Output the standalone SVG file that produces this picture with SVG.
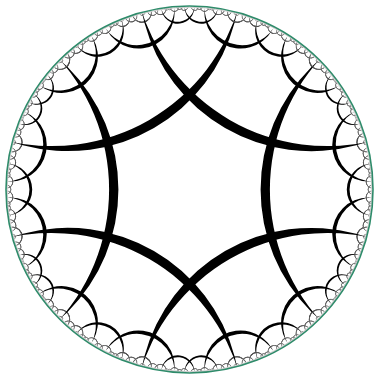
<svg xmlns="http://www.w3.org/2000/svg" width="377" height="377" viewBox="0 0 377 377">
<style>.b{fill:#000;fill-rule:evenodd;stroke:none}.t{fill:none;stroke:#777;stroke-width:0.7}</style>
<defs>
<clipPath id="disk"><circle cx="189.5" cy="189.5" r="183"/></clipPath>
<g id="sector">
<path class="b" d="M269.893 189.5a195.338 195.338 0 1 0 390.676 0a195.338 195.338 0 1 0 -390.676 0ZM260.592 189.5a172.738 172.738 0 1 0 345.476 0a172.738 172.738 0 1 0 -345.476 0Z"/>
<path class="b" d="M335.788 144.117a37.125 37.125 0 1 0 74.249 0a37.125 37.125 0 1 0 -74.249 0ZM332.239 145.218a36.224 36.224 0 1 0 72.448 0a36.224 36.224 0 1 0 -72.448 0Z"/>
<path class="b" d="M335.788 234.883a37.125 37.125 0 1 0 74.249 0a37.125 37.125 0 1 0 -74.249 0ZM332.239 233.782a36.224 36.224 0 1 0 72.448 0a36.224 36.224 0 1 0 -72.448 0Z"/>
<path class="b" d="M349.569 189.5a26.424 26.424 0 1 0 52.848 0a26.424 26.424 0 1 0 -52.848 0ZM346.787 189.5a25.964 25.964 0 1 0 51.929 0a25.964 25.964 0 1 0 -51.929 0Z"/>
<path class="b" d="M338.354 107.542a16.761 16.761 0 1 0 33.522 0a16.761 16.761 0 1 0 -33.522 0ZM336.702 108.451a16.575 16.575 0 1 0 33.15 0a16.575 16.575 0 1 0 -33.15 0Z"/>
<path class="b" d="M338.354 271.458a16.761 16.761 0 1 0 33.522 0a16.761 16.761 0 1 0 -33.522 0ZM336.702 270.549a16.575 16.575 0 1 0 33.15 0a16.575 16.575 0 1 0 -33.15 0Z"/>
<path class="b" d="M357.468 142.162a9.681 9.681 0 1 0 19.362 0a9.681 9.681 0 1 0 -19.362 0ZM356.385 142.467a9.619 9.619 0 1 0 19.237 0a9.619 9.619 0 1 0 -19.237 0Z"/>
<path class="b" d="M357.468 236.838a9.681 9.681 0 1 0 19.362 0a9.681 9.681 0 1 0 -19.362 0ZM356.385 236.533a9.619 9.619 0 1 0 19.237 0a9.619 9.619 0 1 0 -19.237 0Z"/>
<path class="b" d="M363.755 162.538a7.352 7.352 0 1 0 14.704 0a7.352 7.352 0 1 0 -14.704 0ZM362.901 162.671a7.316 7.316 0 1 0 14.632 0a7.316 7.316 0 1 0 -14.632 0Z"/>
<path class="b" d="M363.755 216.462a7.352 7.352 0 1 0 14.704 0a7.352 7.352 0 1 0 -14.704 0ZM362.901 216.329a7.316 7.316 0 1 0 14.632 0a7.316 7.316 0 1 0 -14.632 0Z"/>
<path class="b" d="M366.498 181.755a6.336 6.336 0 1 0 12.671 0a6.336 6.336 0 1 0 -12.671 0ZM365.751 181.788a6.309 6.309 0 1 0 12.618 0a6.309 6.309 0 1 0 -12.618 0Z"/>
<path class="b" d="M366.498 197.245a6.336 6.336 0 1 0 12.671 0a6.336 6.336 0 1 0 -12.671 0ZM365.751 197.212a6.309 6.309 0 1 0 12.618 0a6.309 6.309 0 1 0 -12.618 0Z"/>
<path class="b" d="M363.421 153.279a5.926 5.926 0 1 0 11.852 0a5.926 5.926 0 1 0 -11.852 0ZM362.733 153.422a5.903 5.903 0 1 0 11.805 0a5.903 5.903 0 1 0 -11.805 0Z"/>
<path class="b" d="M363.421 225.721a5.926 5.926 0 1 0 11.852 0a5.926 5.926 0 1 0 -11.852 0ZM362.733 225.578a5.903 5.903 0 1 0 11.805 0a5.903 5.903 0 1 0 -11.805 0Z"/>
<path class="b" d="M355.056 124.302a5.926 5.926 0 1 0 11.852 0a5.926 5.926 0 1 0 -11.852 0ZM354.401 124.559a5.903 5.903 0 1 0 11.805 0a5.903 5.903 0 1 0 -11.805 0Z"/>
<path class="b" d="M355.056 254.698a5.926 5.926 0 1 0 11.852 0a5.926 5.926 0 1 0 -11.852 0ZM354.401 254.441a5.903 5.903 0 1 0 11.805 0a5.903 5.903 0 1 0 -11.805 0Z"/>
<path class="b" d="M358.324 131.766a5.248 5.248 0 1 0 10.495 0a5.248 5.248 0 1 0 -10.495 0ZM357.733 131.968a5.229 5.229 0 1 0 10.459 0a5.229 5.229 0 1 0 -10.459 0Z"/>
<path class="b" d="M358.324 247.234a5.248 5.248 0 1 0 10.495 0a5.248 5.248 0 1 0 -10.495 0ZM357.733 247.032a5.229 5.229 0 1 0 10.459 0a5.229 5.229 0 1 0 -10.459 0Z"/>
<path class="b" d="M368.35 189.5a4.479 4.479 0 1 0 8.957 0a4.479 4.479 0 1 0 -8.957 0ZM367.816 189.5a4.465 4.465 0 1 0 8.93 0a4.465 4.465 0 1 0 -8.93 0Z"/>
<path class="b" d="M350.978 111.204a4.27 4.27 0 1 0 8.54 0a4.27 4.27 0 1 0 -8.54 0ZM350.518 111.427a4.258 4.258 0 1 0 8.515 0a4.258 4.258 0 1 0 -8.515 0Z"/>
<path class="b" d="M350.978 267.796a4.27 4.27 0 1 0 8.54 0a4.27 4.27 0 1 0 -8.54 0ZM350.518 267.573a4.258 4.258 0 1 0 8.515 0a4.258 4.258 0 1 0 -8.515 0Z"/>
<path class="b" d="M347.047 102.484a3.746 3.746 0 1 0 7.493 0a3.746 3.746 0 1 0 -7.493 0ZM346.652 102.702a3.737 3.737 0 1 0 7.474 0a3.737 3.737 0 1 0 -7.474 0Z"/>
<path class="b" d="M347.047 276.516a3.746 3.746 0 1 0 7.493 0a3.746 3.746 0 1 0 -7.493 0ZM346.652 276.298a3.737 3.737 0 1 0 7.474 0a3.737 3.737 0 1 0 -7.474 0Z"/>
<path class="b" d="M368.617 170.486a3.111 3.111 0 1 0 6.222 0a3.111 3.111 0 1 0 -6.222 0ZM368.244 170.526a3.104 3.104 0 1 0 6.209 0a3.104 3.104 0 1 0 -6.209 0Z"/>
<path class="b" d="M368.617 208.514a3.111 3.111 0 1 0 6.222 0a3.111 3.111 0 1 0 -6.222 0ZM368.244 208.474a3.104 3.104 0 1 0 6.209 0a3.104 3.104 0 1 0 -6.209 0Z"/>
<path class="b" d="M369.109 174.788a3.009 3.009 0 1 0 6.017 0a3.009 3.009 0 1 0 -6.017 0ZM368.748 174.818a3.003 3.003 0 1 0 6.005 0a3.003 3.003 0 1 0 -6.005 0Z"/>
<path class="b" d="M369.109 204.212a3.009 3.009 0 1 0 6.017 0a3.009 3.009 0 1 0 -6.017 0ZM368.748 204.182a3.003 3.003 0 1 0 6.005 0a3.003 3.003 0 1 0 -6.005 0Z"/>
<path class="b" d="M350.073 106.668a2.823 2.823 0 1 0 5.647 0a2.823 2.823 0 1 0 -5.647 0ZM349.771 106.824a2.818 2.818 0 1 0 5.636 0a2.818 2.818 0 1 0 -5.636 0Z"/>
<path class="b" d="M350.073 272.332a2.823 2.823 0 1 0 5.647 0a2.823 2.823 0 1 0 -5.647 0ZM349.771 272.176a2.818 2.818 0 1 0 5.636 0a2.818 2.818 0 1 0 -5.636 0Z"/>
<path class="b" d="M363.855 142.108a2.585 2.585 0 1 0 5.169 0a2.585 2.585 0 1 0 -5.169 0ZM363.553 142.19a2.58 2.58 0 1 0 5.16 0a2.58 2.58 0 1 0 -5.16 0Z"/>
<path class="b" d="M363.855 236.892a2.585 2.585 0 1 0 5.169 0a2.585 2.585 0 1 0 -5.169 0ZM363.553 236.81a2.58 2.58 0 1 0 5.16 0a2.58 2.58 0 1 0 -5.16 0Z"/>
<circle class="t" cx="366.574" cy="142.315" r="9.632"/><circle class="t" cx="366.574" cy="236.685" r="9.632"/>
<circle class="t" cx="370.661" cy="162.605" r="7.32"/><circle class="t" cx="370.661" cy="216.395" r="7.32"/>
<circle class="t" cx="372.446" cy="181.771" r="6.31"/><circle class="t" cx="372.446" cy="197.229" r="6.31"/>
<circle class="t" cx="368.991" cy="153.35" r="5.903"/><circle class="t" cx="368.991" cy="225.65" r="5.903"/>
<circle class="t" cx="360.643" cy="124.43" r="5.903"/><circle class="t" cx="360.643" cy="254.57" r="5.903"/>
<circle class="t" cx="363.266" cy="131.867" r="5.229"/><circle class="t" cx="363.266" cy="247.133" r="5.229"/>
<circle class="t" cx="372.555" cy="189.5" r="4.463"/>
<circle class="t" cx="355.012" cy="111.316" r="4.256"/><circle class="t" cx="355.012" cy="267.684" r="4.256"/>
<circle class="t" cx="350.59" cy="102.593" r="3.735"/><circle class="t" cx="350.59" cy="276.407" r="3.735"/>
<circle class="t" cx="371.538" cy="170.506" r="3.102"/><circle class="t" cx="371.538" cy="208.494" r="3.102"/>
<circle class="t" cx="371.934" cy="174.803" r="3"/><circle class="t" cx="371.934" cy="204.197" r="3"/>
<circle class="t" cx="352.744" cy="106.745" r="2.815"/><circle class="t" cx="352.744" cy="272.255" r="2.815"/>
<circle class="t" cx="366.287" cy="142.149" r="2.577"/><circle class="t" cx="366.287" cy="236.851" r="2.577"/>
<circle class="t" cx="358.212" cy="118.573" r="2.316"/><circle class="t" cx="358.212" cy="260.427" r="2.316"/>
<circle class="t" cx="356.959" cy="115.67" r="2.153"/><circle class="t" cx="356.959" cy="263.33" r="2.153"/>
<circle class="t" cx="370.661" cy="163.548" r="1.926"/><circle class="t" cx="370.661" cy="215.452" r="1.926"/>
</g>
</defs>
<rect width="377" height="377" fill="#fff"/>
<g id="tiling" clip-path="url(#disk)">
<use href="#sector"/>
<use href="#sector" transform="rotate(60 189.5 189.5)"/>
<use href="#sector" transform="rotate(120 189.5 189.5)"/>
<use href="#sector" transform="rotate(180 189.5 189.5)"/>
<use href="#sector" transform="rotate(240 189.5 189.5)"/>
<use href="#sector" transform="rotate(300 189.5 189.5)"/>
<circle cx="189.5" cy="189.5" r="182.4" fill="none" stroke="#cfcfcf" stroke-width="1.2"/>
</g>
<circle id="rim" cx="189.5" cy="189.5" r="183.5" fill="none" stroke="#2e8b6a" stroke-width="1.6"/>
</svg>
